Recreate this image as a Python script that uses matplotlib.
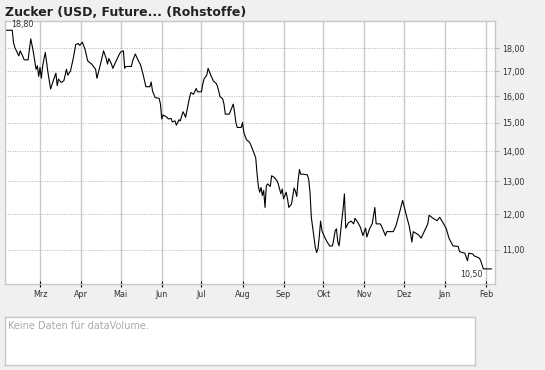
import pandas as pd
import matplotlib
matplotlib.use('Agg')
import matplotlib.pyplot as plt
import matplotlib.dates as mdates
from matplotlib.ticker import FixedLocator, NullLocator, FixedFormatter

# Price series (trading days, USD)
dates = [
    '2018-02-03', '2018-02-08', '2018-02-09', '2018-02-10', '2018-02-13', '2018-02-14', '2018-02-16', '2018-02-17',
    '2018-02-20', '2018-02-22', '2018-02-23', '2018-02-24', '2018-02-26', '2018-02-27', '2018-02-28',
    '2018-03-01', '2018-03-02', '2018-03-03', '2018-03-05', '2018-03-07', '2018-03-09', '2018-03-11', '2018-03-13',
    '2018-03-14', '2018-03-15', '2018-03-17', '2018-03-19', '2018-03-21', '2018-03-22', '2018-03-24', '2018-03-26',
    '2018-03-28', '2018-03-30', '2018-03-31',
    '2018-04-02', '2018-04-04', '2018-04-06', '2018-04-09', '2018-04-12', '2018-04-13', '2018-04-16', '2018-04-18',
    '2018-04-20', '2018-04-21', '2018-04-22', '2018-04-24', '2018-04-25', '2018-04-27', '2018-04-30',
    '2018-05-01', '2018-05-03', '2018-05-04', '2018-05-05', '2018-05-09', '2018-05-10', '2018-05-12', '2018-05-14',
    '2018-05-16', '2018-05-17', '2018-05-18', '2018-05-20', '2018-05-23', '2018-05-24', '2018-05-25', '2018-05-27',
    '2018-05-30', '2018-05-31',
    '2018-06-01', '2018-06-02', '2018-06-05', '2018-06-06', '2018-06-08', '2018-06-09', '2018-06-11', '2018-06-12',
    '2018-06-14', '2018-06-15', '2018-06-17', '2018-06-18', '2018-06-19', '2018-06-20', '2018-06-22', '2018-06-23',
    '2018-06-25', '2018-06-27', '2018-06-28',
    '2018-07-01', '2018-07-02', '2018-07-03', '2018-07-05', '2018-07-06', '2018-07-08', '2018-07-10', '2018-07-12',
    '2018-07-13', '2018-07-14', '2018-07-15', '2018-07-17', '2018-07-18', '2018-07-19', '2018-07-22', '2018-07-24',
    '2018-07-25', '2018-07-26', '2018-07-27', '2018-07-28', '2018-07-31',
    '2018-08-01', '2018-08-02', '2018-08-04', '2018-08-06', '2018-08-07', '2018-08-09', '2018-08-11', '2018-08-12',
    '2018-08-13', '2018-08-14', '2018-08-15', '2018-08-16', '2018-08-17', '2018-08-18', '2018-08-19', '2018-08-20',
    '2018-08-22', '2018-08-23', '2018-08-25', '2018-08-27', '2018-08-28', '2018-08-30', '2018-08-31',
    '2018-09-01', '2018-09-03', '2018-09-04', '2018-09-05', '2018-09-07', '2018-09-09', '2018-09-10', '2018-09-11',
    '2018-09-12', '2018-09-13', '2018-09-14', '2018-09-16', '2018-09-19', '2018-09-20', '2018-09-21', '2018-09-22',
    '2018-09-24', '2018-09-25', '2018-09-26', '2018-09-27', '2018-09-28', '2018-09-29', '2018-09-30',
    '2018-10-02', '2018-10-04', '2018-10-06', '2018-10-08', '2018-10-09', '2018-10-10', '2018-10-11', '2018-10-12',
    '2018-10-13', '2018-10-14', '2018-10-15', '2018-10-16', '2018-10-17', '2018-10-18', '2018-10-20', '2018-10-22',
    '2018-10-24', '2018-10-25', '2018-10-27', '2018-10-29', '2018-10-31',
    '2018-11-02', '2018-11-03', '2018-11-05', '2018-11-07', '2018-11-09', '2018-11-10', '2018-11-13', '2018-11-14',
    '2018-11-17', '2018-11-18', '2018-11-23', '2018-11-25', '2018-11-28', '2018-11-30',
    '2018-12-03', '2018-12-05', '2018-12-06', '2018-12-07', '2018-12-08', '2018-12-12', '2018-12-14', '2018-12-16',
    '2018-12-19', '2018-12-20', '2018-12-23', '2018-12-26', '2018-12-28', '2018-12-31',
    '2019-01-02', '2019-01-04', '2019-01-07', '2019-01-11', '2019-01-12', '2019-01-16', '2019-01-18', '2019-01-19',
    '2019-01-22', '2019-01-23', '2019-01-27', '2019-01-28', '2019-01-30',
    '2019-02-05',
]
prices = [
    18.80, 18.80, 18.23, 18.02, 17.66, 17.88, 17.64, 17.49, 17.49, 18.41, 18.12, 17.81, 17.09, 17.24, 16.80,
    17.17, 16.72, 17.24, 17.81, 16.96, 16.29, 16.62, 16.93, 16.42, 16.69, 16.55, 16.62, 17.09, 16.85, 17.02, 17.52,
    18.16, 18.20, 18.12,
    18.26, 17.95, 17.45, 17.31, 17.09, 16.72, 17.38, 17.88, 17.55, 17.31, 17.55, 17.31, 17.13, 17.38, 17.74,
    17.83, 17.88, 17.13, 17.21, 17.21, 17.45, 17.74, 17.49, 17.27, 17.07, 16.85, 16.38, 16.38, 16.57, 16.21, 15.95,
    15.92, 15.70,
    15.14, 15.29, 15.20, 15.14, 15.16, 15.03, 15.07, 14.91, 15.11, 15.07, 15.41, 15.32, 15.20, 15.45, 15.96, 16.15,
    16.08, 16.31, 16.18,
    16.18, 16.49, 16.70, 16.85, 17.13, 16.85, 16.61, 16.52, 16.41, 16.21, 15.99, 15.90, 15.70, 15.32, 15.32, 15.58,
    15.70, 15.39, 15.01, 14.83, 14.83,
    15.01, 14.65, 14.39, 14.32, 14.24, 14.01, 13.77, 13.24, 12.83, 12.66, 12.81, 12.56, 12.72, 12.20, 12.86, 12.92,
    12.84, 13.18, 13.13, 13.02, 12.92, 12.61, 12.76,
    12.46, 12.66, 12.46, 12.20, 12.30, 12.79, 12.69, 12.53, 13.02, 13.38, 13.23, 13.23, 13.21, 13.07, 12.66, 11.91,
    11.35, 11.07, 10.93, 11.02, 11.35, 11.80, 11.53,
    11.35, 11.21, 11.10, 11.11, 11.30, 11.52, 11.58, 11.21, 11.11, 11.44, 11.81, 12.15, 12.61, 11.60, 11.75, 11.80,
    11.72, 11.88, 11.77, 11.63, 11.39,
    11.60, 11.35, 11.58, 11.72, 12.20, 11.72, 11.72, 11.66, 11.39, 11.50, 11.50, 11.67, 12.10, 12.41,
    11.94, 11.65, 11.44, 11.21, 11.50, 11.41, 11.32, 11.48, 11.72, 11.97, 11.88, 11.81, 11.91, 11.72,
    11.58, 11.32, 11.11, 11.09, 10.95, 10.91, 10.71, 10.91, 10.89, 10.84, 10.78, 10.71, 10.50,
    10.50,
]

month_ticks = pd.date_range('2018-03-01', '2019-02-01', freq='MS')
month_labels = ['Mrz', 'Apr', 'Mai', 'Jun', 'Jul', 'Aug', 'Sep', 'Okt', 'Nov', 'Dez', 'Jan', 'Feb']
price_ticks = [11, 12, 13, 14, 15, 16, 17, 18]
price_labels = [f'{p:.2f}'.replace('.', ',') for p in price_ticks]

df = pd.DataFrame({'date': pd.to_datetime(dates), 'price': prices})

bg = '#f0f0f0'
grid_col = '#c8c8c8'
text_col = '#333333'

fig = plt.figure(figsize=(5.45, 3.70), dpi=100, facecolor=bg)

# main price panel
ax = fig.add_axes([5/545, 1 - 284/370, 490/545, 263/370])
ax.set_facecolor('white')
ax.plot(df['date'], df['price'], color='black', lw=0.8)

ax.set_yscale('log')
ax.set_ylim(10.12, 19.23)
ax.set_xlim(pd.Timestamp('2018-02-02 13:00'), pd.Timestamp('2019-02-07 19:00'))

ax.yaxis.set_major_locator(FixedLocator(price_ticks))
ax.yaxis.set_major_formatter(FixedFormatter(price_labels))
ax.yaxis.set_minor_locator(NullLocator())
ax.xaxis.set_major_locator(FixedLocator(mdates.date2num(month_ticks)))
ax.xaxis.set_major_formatter(FixedFormatter(month_labels))

ax.tick_params(axis='y', left=False, labelleft=False, right=True, labelright=True,
               length=3, width=0.6, color='#b0b0b0', pad=2, labelsize=5.8, labelcolor=text_col)
ax.tick_params(axis='x', direction='inout', length=5, width=0.8, color='black',
               pad=2, labelsize=5.8, labelcolor=text_col)

ax.grid(axis='x', color=grid_col, lw=1.0, ls='-')
ax.grid(axis='y', color='#b4b4b4', lw=0.7, ls=(0, (1, 1.5)))
ax.set_axisbelow(True)
for s in ax.spines.values():
    s.set_color(grid_col)
    s.set_linewidth(1.0)

# first / last price labels
ax.annotate(f'{prices[0]:.2f}'.replace('.', ','), xy=(df['date'].iloc[0], prices[0]),
            xytext=(4.3, 4), textcoords='offset points', ha='left', va='center',
            fontsize=5.8, color=text_col)
ax.annotate(f'{prices[-1]:.2f}'.replace('.', ','), xy=(df['date'].iloc[-1], prices[-1]),
            xytext=(-6.5, -4), textcoords='offset points', ha='right', va='center',
            fontsize=5.8, color=text_col)

fig.text(5/545, 1 - 12/370, 'Zucker (USD, Future... (Rohstoffe)', fontsize=9, fontweight='bold',
         color='#222222', ha='left', va='center')

# empty volume panel
vax = fig.add_axes([5/545, 1 - 365/370, 470/545, 48/370])
vax.set_facecolor('white')
vax.set_xticks([])
vax.set_yticks([])
for s in vax.spines.values():
    s.set_color(grid_col)
    s.set_linewidth(1.0)
vax.text(3/470, 1 - 9/48, 'Keine Daten für dataVolume.', transform=vax.transAxes,
         fontsize=7, color='#aaaaaa', ha='left', va='center')

plt.savefig('out.png', dpi=100, facecolor=bg)
